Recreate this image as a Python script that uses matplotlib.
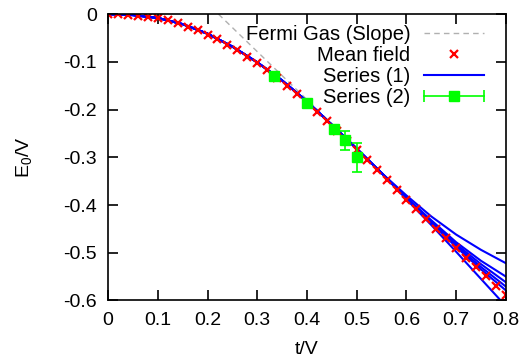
import matplotlib
matplotlib.use("Agg")
import matplotlib.pyplot as plt
from matplotlib.lines import Line2D
from matplotlib.legend_handler import HandlerLine2D, HandlerTuple
from matplotlib.ticker import FuncFormatter

plt.rcParams['font.family'] = ['Liberation Sans', 'DejaVu Sans']
plt.rcParams['mathtext.default'] = 'regular'
plt.rcParams['axes.unicode_minus'] = False

# mean field points (every 0.02)
mf_t = [0.00, 0.02, 0.04, 0.06, 0.08, 0.10, 0.12, 0.14, 0.16, 0.18, 0.20,
        0.22, 0.24, 0.26, 0.28, 0.30, 0.32, 0.34, 0.36, 0.38, 0.40,
        0.42, 0.44, 0.46, 0.48, 0.50, 0.52, 0.54, 0.56, 0.58, 0.60,
        0.62, 0.64, 0.66, 0.68, 0.70, 0.72, 0.74, 0.76, 0.78, 0.80]
mf_E = [0.000, 0.000, -0.001, -0.003, -0.005, -0.009, -0.013, -0.019, -0.026, -0.034, -0.043,
        -0.053, -0.064, -0.076, -0.089, -0.103, -0.118, -0.133, -0.150, -0.167, -0.186,
        -0.205, -0.225, -0.245, -0.265, -0.285, -0.305, -0.326, -0.347, -0.368, -0.389,
        -0.409, -0.430, -0.450, -0.469, -0.490, -0.510, -0.530, -0.549, -0.569, -0.588]

# series (1): several curves
s1_t = [0.0, 0.05, 0.1, 0.15, 0.2, 0.25, 0.3, 0.35, 0.4, 0.45, 0.5, 0.55, 0.6, 0.65, 0.7, 0.75, 0.8]
s1_base = [0.0, -0.002, -0.008, -0.021, -0.041, -0.068, -0.101, -0.139, -0.183, -0.232, -0.282, -0.333]
s1_tails = [
    [-0.380, -0.424, -0.462, -0.494, -0.522],
    [-0.384, -0.432, -0.478, -0.517, -0.550],
    [-0.385, -0.434, -0.482, -0.524, -0.562],
    [-0.386, -0.436, -0.485, -0.530, -0.571],
    [-0.386, -0.437, -0.488, -0.535, -0.579],
    [-0.388, -0.442, -0.498, -0.555, -0.612],
]

# series (2) with error bars
s2_t = [0.333, 0.400, 0.455, 0.476, 0.500]
s2_E = [-0.130, -0.186, -0.241, -0.264, -0.300]
s2_err = [0.002, 0.003, 0.005, 0.020, 0.030]

# Fermi gas slope
fg_t = [0.222, 0.50]
fg_E = [0.0, -0.280]

fig = plt.figure(figsize=(5.27, 3.62), dpi=100)
ax = fig.add_axes([0.205, 0.170, 0.755, 0.791])

fg, = ax.plot(fg_t, fg_E, color='#b0b0b0', ls=(0, (4, 3)), lw=1.0, label='Fermi Gas (Slope)')
for tail in s1_tails:
    b, = ax.plot(s1_t, s1_base + tail, color='#0000ff', lw=1.5)
mf, = ax.plot(mf_t, mf_E, ls='none', marker='x', color='#ff0000', ms=6, mew=1.6)
ax.errorbar(s2_t, s2_E, yerr=s2_err, fmt='s', color='#00ff00', ms=7.5,
            capsize=3.5, elinewidth=1.2, capthick=1.2)

ax.set_xlim(0, 0.8)
ax.set_ylim(-0.6, 0)
ax.set_xticks([0, 0.1, 0.2, 0.3, 0.4, 0.5, 0.6, 0.7, 0.8])
ax.set_yticks([0, -0.1, -0.2, -0.3, -0.4, -0.5, -0.6])
fmt = FuncFormatter(lambda v, p: '%g' % round(v, 3))
ax.xaxis.set_major_formatter(fmt)
ax.yaxis.set_major_formatter(fmt)
ax.tick_params(direction='in', top=True, right=True, length=7, width=1.2,
               labelsize=14, pad=8)
for s in ax.spines.values():
    s.set_linewidth(1.2)
ax.set_xlabel('t/V', fontsize=14, labelpad=9)
ax.set_ylabel('E$_0$/V', fontsize=14, labelpad=21)

bar_proxy = Line2D([], [], color='#00ff00', lw=1.2, marker='|', ms=9, mew=1.2)
sq_proxy = Line2D([], [], color='#00ff00', ls='none', marker='s', ms=7.5)
ax.legend(handles=[fg, mf, b, (bar_proxy, sq_proxy)],
          labels=['Fermi Gas (Slope)', 'Mean field', 'Series (1)', 'Series (2)'],
          handler_map={bar_proxy: HandlerLine2D(numpoints=2, marker_pad=0),
                       tuple: HandlerTuple(ndivide=1)},
          loc='upper right', bbox_to_anchor=(0.945, 0.962), frameon=False,
          markerfirst=False, fontsize=14.5, handlelength=3.0, handletextpad=0.65,
          labelspacing=0.1, borderpad=0, borderaxespad=0)

fig.savefig('out.png', dpi=100)
